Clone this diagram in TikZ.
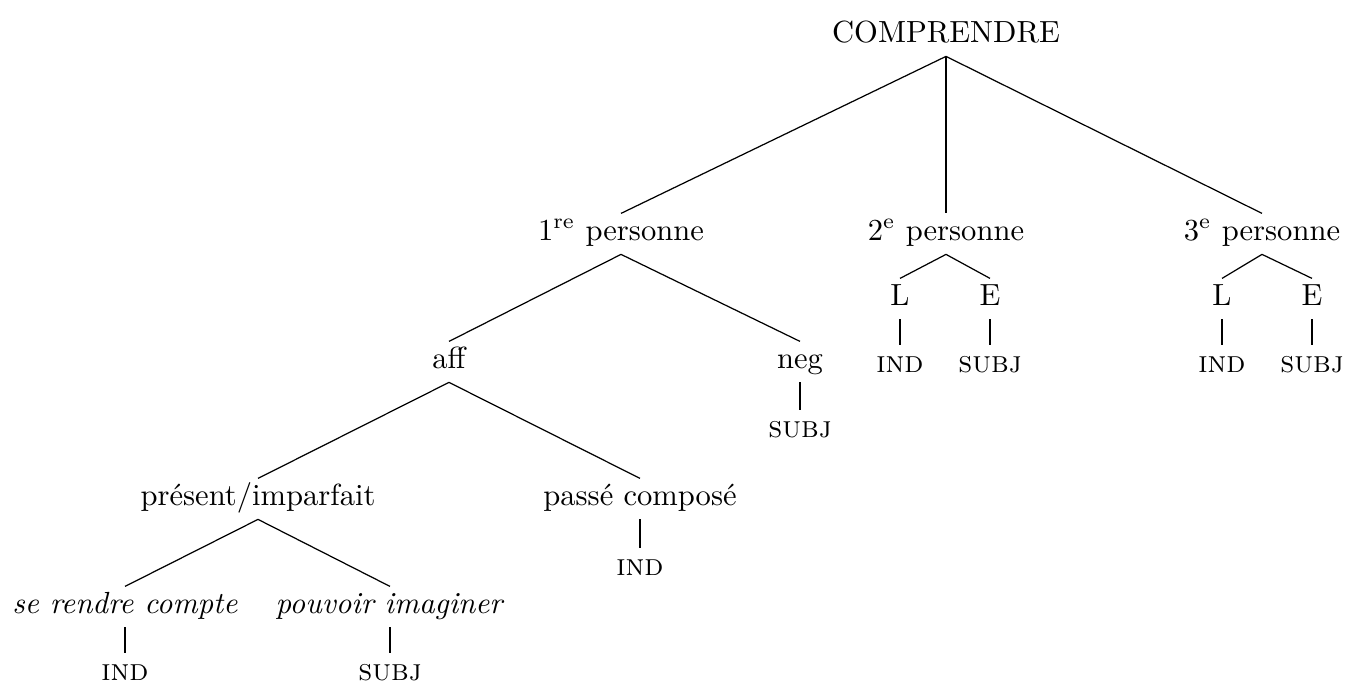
\documentclass[tikz,border=0pt]{standalone}
\begin{document}
\begin{tikzpicture}[x=0.327pt,y=-0.327pt,
  tn/.style={anchor=base,inner xsep=1pt,inner ysep=2.3pt,text height=6.2pt,text depth=2.2pt,font=\fontsize{10}{12}\selectfont},
  br/.style={line width=0.4pt}]
\useasboundingbox (0,0) rectangle (1348,682);
\node[tn] (root) at (946,42) {COMPRENDRE};
\node[tn] (p1) at (621,240) {1\textsuperscript{re} personne};
\node[tn] (p2) at (946,240) {2\textsuperscript{e} personne};
\node[tn] (p3) at (1262,240) {3\textsuperscript{e} personne};
\node[tn] (aff) at (449,368) {aff};
\node[tn] (neg) at (800,368) {neg};
\node[tn] (negS) at (800,437) {\textsc{subj}};
\node[tn] (L2) at (900,305) {L};
\node[tn] (E2) at (990,305) {E};
\node[tn] (L2I) at (900,372) {\textsc{ind}};
\node[tn] (E2S) at (990,372) {\textsc{subj}};
\node[tn] (L3) at (1222,305) {L};
\node[tn] (E3) at (1312,305) {E};
\node[tn] (L3I) at (1222,372) {\textsc{ind}};
\node[tn] (E3S) at (1312,372) {\textsc{subj}};
\node[tn] (pi) at (258,505) {présent/imparfait};
\node[tn] (pc) at (640,505) {passé composé};
\node[tn] (pcI) at (640,575) {\textsc{ind}};
\node[tn] (src) at (125,613) {\textit{se rendre compte}};
\node[tn] (pim) at (390,613) {\textit{pouvoir imaginer}};
\node[tn] (srcI) at (125,680) {\textsc{ind}};
\node[tn] (pimS) at (390,680) {\textsc{subj}};
\foreach \a/\b in {root/p1,root/p2,root/p3,p1/aff,p1/neg,neg/negS,p2/L2,p2/E2,L2/L2I,E2/E2S,
  p3/L3,p3/E3,L3/L3I,E3/E3S,aff/pi,aff/pc,pc/pcI,pi/src,pi/pim,src/srcI,pim/pimS}
  \draw[br] (\a.south) -- (\b.north);
\end{tikzpicture}
\end{document}
